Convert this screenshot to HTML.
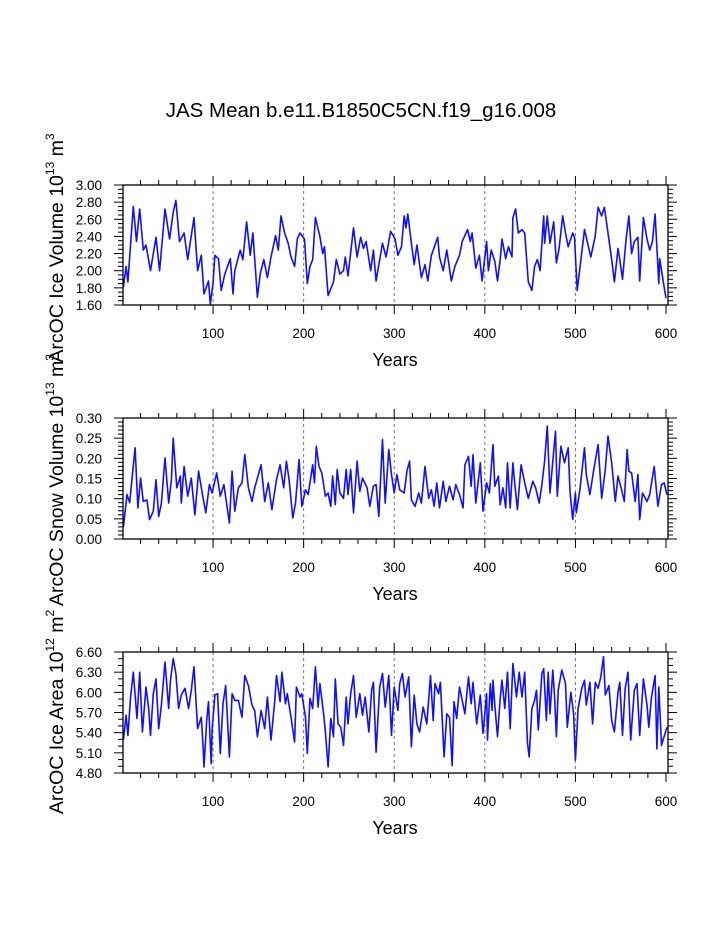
<!DOCTYPE html>
<html><head><meta charset="utf-8"><style>
html,body{margin:0;padding:0;background:#fff;}
svg{display:block;font-family:"Liberation Sans",sans-serif;}
</style></head><body>
<svg id="chart" width="723" height="935" viewBox="0 0 723 935" xmlns="http://www.w3.org/2000/svg">
<text x="361" y="117" font-size="20.5" text-anchor="middle">JAS Mean b.e11.B1850C5CN.f19_g16.008</text>
</svg>
<script>
const iceVolYears=[1,4,6,12,15.5,19,23,26,31,37,41,47,52,56,59,63,68,72,79,83,87,90,95,97,100,102,106,109,113,119,122,124,130,133,137,141,144,149,152,156,160,164,169,172,175,179,183,186,190,193,196,201,204,207,210,213,218,221,223,227,233,236,240,244,246,249,255,259,263,266,269,274,277,280,284,287,291,296,301,304,308,311,313,315,319,322,325,330,334,337,341,348,350,354,358,363,367,372,375,381,384,386,390,394,397,402,404,407,411,414,417,419,423,426,430,431,434,437,441,444,448,452,455,458,461,465,466,469,472,476,479,482,486,489,492,497,499,502,505,510,512,517,522,525,529,532,536,540,543,547,549,552,556,559,562,565,569,571,575,579,582,585,588,592,593,597,600];
const iceVolValues=[1.81,2.05,1.87,2.75,2.34,2.72,2.24,2.30,2.00,2.39,2.00,2.72,2.37,2.68,2.82,2.34,2.44,2.13,2.62,2.00,2.18,1.73,1.88,1.61,1.85,2.18,2.14,1.77,1.96,2.14,1.73,2.00,2.24,2.13,2.57,2.18,2.44,1.69,1.96,2.13,1.92,2.16,2.41,2.24,2.64,2.44,2.32,2.16,2.05,2.37,2.44,2.37,1.85,2.05,2.13,2.62,2.40,2.20,2.28,1.71,1.87,2.13,1.96,2.00,2.16,1.94,2.50,2.16,2.39,2.26,2.34,2.00,2.24,1.88,2.13,2.32,2.16,2.46,2.37,2.18,2.28,2.64,2.50,2.66,2.32,2.07,2.30,1.92,2.07,1.88,2.18,2.39,2.16,2.00,2.24,1.88,2.05,2.18,2.34,2.48,2.34,2.44,2.03,2.18,1.88,2.34,2.00,2.24,2.11,1.88,2.13,2.37,2.14,2.28,2.16,2.62,2.72,2.44,2.48,2.44,1.87,1.77,2.05,2.13,2.00,2.64,2.32,2.64,2.32,2.57,2.09,2.26,2.64,2.44,2.28,2.44,2.39,1.77,2.03,2.48,2.39,2.16,2.41,2.74,2.64,2.74,2.44,2.13,1.87,2.26,2.13,1.90,2.37,2.64,2.20,2.34,2.39,1.88,2.62,2.37,2.24,2.34,2.66,1.85,2.14,1.87,1.68];

const snowYears=[1,5,8,11,14,17,20,23,27,30,34,37,40,43,47,51,54,56,60,64,65,68,72,76,80,84,88,92,96,99,104,108,112,118,121,124,128,132,135,139,143,146,153,157,161,165,170,174,178,181,184,188,191,195,198,202,205,210,212,214,217,220,224,227,230,232,235,237,240,244,247,249,252,255,259,262,265,270,273,277,280,283,287,290,294,297,300,303,306,311,314,317,319,323,327,330,334,338,341,344,347,350,354,357,361,365,368,372,376,378,382,385,387,390,395,398,402,405,409,411,415,417,420,423,425,428,431,433,436,440,444,448,453,456,460,463,466,469,472,475,478,480,484,488,492,494,497,500,501,505,510,512,516,520,525,529,533,536,540,544,547,551,554,557,559,562,566,569,571,574,579,582,587,591,595,598,601];
const snowValues=[0.03,0.11,0.09,0.16,0.226,0.077,0.151,0.093,0.097,0.048,0.069,0.147,0.056,0.089,0.201,0.089,0.147,0.25,0.127,0.156,0.089,0.18,0.106,0.151,0.06,0.168,0.114,0.065,0.135,0.114,0.164,0.106,0.135,0.04,0.168,0.069,0.127,0.139,0.209,0.127,0.093,0.127,0.184,0.093,0.139,0.073,0.147,0.184,0.127,0.193,0.147,0.052,0.089,0.197,0.081,0.122,0.11,0.184,0.139,0.23,0.18,0.164,0.106,0.114,0.081,0.156,0.085,0.172,0.114,0.101,0.172,0.11,0.172,0.065,0.193,0.118,0.151,0.127,0.081,0.131,0.135,0.056,0.247,0.089,0.222,0.16,0.114,0.16,0.122,0.114,0.168,0.193,0.097,0.081,0.114,0.089,0.18,0.101,0.122,0.081,0.139,0.077,0.143,0.093,0.131,0.097,0.135,0.11,0.077,0.184,0.205,0.131,0.209,0.089,0.189,0.069,0.139,0.114,0.234,0.131,0.156,0.085,0.127,0.077,0.189,0.077,0.189,0.139,0.073,0.184,0.139,0.101,0.143,0.127,0.089,0.135,0.193,0.28,0.114,0.193,0.267,0.106,0.23,0.189,0.226,0.118,0.048,0.114,0.065,0.122,0.226,0.16,0.11,0.168,0.234,0.101,0.172,0.255,0.189,0.093,0.156,0.122,0.093,0.222,0.168,0.164,0.093,0.16,0.048,0.114,0.093,0.11,0.18,0.081,0.135,0.139,0.11];

const areaYears=[1,4,6,9,12,16,19,22,26,29,31,34,37,40,43,47,51,53,56,59,62,65,69,73,76,79,83,87,89,90,93,95,98,99,102,105,108,111,114,118,121,124,128,132,135,139,143,146,149,153,157,160,164,168,170,174,176,180,182,186,190,192,196,198,202,204,207,210,213,216,218,222,224,227,230,233,235,238,241,244,247,249,252,255,258,262,265,268,272,275,277,280,284,287,290,294,297,300,304,306,309,312,316,319,322,325,328,332,336,340,343,345,349,351,355,358,361,364,366,369,372,375,378,382,385,387,391,395,398,402,403,406,408,409,411,414,417,419,422,425,428,431,435,438,441,444,447,449,452,455,457,459,463,465,468,470,472,475,477,479,481,485,489,491,495,498,500,503,507,510,512,516,519,522,525,528,531,533,537,540,543,547,549,552,555,558,561,565,568,571,575,579,581,584,588,590,592,595,599,601];
const areaValues=[5.29,5.66,5.36,5.93,6.30,5.61,6.30,5.41,6.08,5.76,5.36,5.98,6.20,5.46,5.81,6.45,5.76,6.18,6.50,6.28,5.76,5.96,6.06,5.76,6.03,6.38,5.46,5.63,5.19,4.89,5.58,5.86,4.94,5.44,5.96,5.98,5.09,5.83,6.10,5.04,5.98,5.88,5.88,5.63,6.25,6.10,5.81,5.73,5.34,5.73,5.46,5.93,5.29,5.86,6.25,5.86,6.30,5.83,5.98,5.63,5.26,6.08,5.93,5.98,5.63,5.09,5.91,5.76,6.38,5.78,6.13,5.68,5.41,4.89,5.61,5.34,6.20,5.53,5.48,5.21,5.93,5.53,5.98,6.25,5.63,5.98,5.66,5.93,5.41,6.03,6.15,5.11,6.08,6.28,5.78,6.25,5.36,6.08,5.73,6.13,6.28,5.93,6.23,5.19,5.96,5.53,5.41,5.78,5.53,6.25,5.58,6.13,5.98,6.15,5.04,5.68,5.63,4.91,5.86,5.61,6.08,5.88,5.68,6.23,5.83,6.15,5.53,5.96,5.39,5.98,5.29,6.13,5.73,6.18,5.81,5.34,5.91,6.18,5.76,6.30,5.46,6.43,5.93,6.30,5.93,6.30,5.26,5.04,5.76,5.88,6.03,5.44,6.28,6.35,5.58,6.30,5.68,6.33,5.93,5.34,6.03,6.33,6.13,5.48,6.00,5.68,4.99,5.76,6.06,6.18,5.81,6.15,5.53,6.15,6.06,6.23,6.53,5.96,6.10,5.58,5.41,6.00,6.15,5.36,6.06,6.30,5.29,6.03,6.13,5.36,6.20,5.81,5.48,5.93,6.25,5.16,6.08,5.21,5.39,5.48];

const xTickValues=[100,200,300,400,500,600];
const iceVolTicks=["1.60","1.80","2.00","2.20","2.40","2.60","2.80","3.00"];
const snowTicks=["0.00","0.05","0.10","0.15","0.20","0.25","0.30"];
const areaTicks=["4.80","5.10","5.40","5.70","6.00","6.30","6.60"];

const NS="http://www.w3.org/2000/svg";
const svg=document.getElementById('chart');
function mk(tag,attrs,parent){const e=document.createElementNS(NS,tag);for(const k in attrs)e.setAttribute(k,attrs[k]);(parent||svg).appendChild(e);return e;}

const X0=123,X1=668,XMIN=0.6,XMAX=602.2;
function xScale(v){return X0+(v-XMIN)/(XMAX-XMIN)*(X1-X0);}

function panel(key,top,bottom,ticks,minorDiv,years,values,ylabelParts,ycenter){
  const ymin=parseFloat(ticks[0]),ymax=parseFloat(ticks[ticks.length-1]);
  const yScale=v=>bottom-(v-ymin)/(ymax-ymin)*(bottom-top);
  const g=mk('g',{});
  
  
  xTickValues.slice(0,5).forEach(t=>{
    const l=mk('line',{x1:xScale(t),x2:xScale(t),y1:top,y2:bottom,stroke:'#777','stroke-width':1,'stroke-dasharray':'3,3'},g);
    
    
  });
  const pts=years.map((y,i)=>xScale(y).toFixed(1)+','+yScale(values[i]).toFixed(1)).join(' ');
  const pl=mk('polyline',{points:pts,fill:'none',stroke:'#1010ff','stroke-width':1.6,'stroke-linejoin':'round'},g);
  
  
  const fr=mk('rect',{x:X0,y:top,width:X1-X0,height:bottom-top,fill:'none',stroke:'#000','stroke-width':1.3},g);
  
  
  for(let t=20;t<=600;t+=20){
    const major=t%100===0, len=major?9:5, x=xScale(t);
    mk('line',{x1:x,x2:x,y1:bottom,y2:bottom+len,stroke:'#000','stroke-width':1},g);
    mk('line',{x1:x,x2:x,y1:top,y2:top-len,stroke:'#000','stroke-width':1},g);
  }
  xTickValues.forEach(t=>{
    const tx=mk('text',{x:xScale(t),y:bottom+33,'font-size':13.5,'text-anchor':'middle'},g);
    tx.textContent=String(t);
    
    
  });
  const xt=mk('text',{x:395,y:bottom+61,'font-size':18,'text-anchor':'middle'},g);
  xt.textContent='Years';
  
  
  const step=parseFloat(ticks[1])-ymin;
  for(let i=0;i<ticks.length;i++){
    const v=parseFloat(ticks[i]), y=yScale(v);
    mk('line',{x1:X0,x2:X0-9,y1:y,y2:y,stroke:'#000','stroke-width':1},g);
    mk('line',{x1:X1,x2:X1+9,y1:y,y2:y,stroke:'#000','stroke-width':1},g);
    if(i<ticks.length-1){for(let m=1;m<minorDiv;m++){const ym=yScale(v+step*m/minorDiv);
      mk('line',{x1:X0,x2:X0-5,y1:ym,y2:ym,stroke:'#000','stroke-width':1},g);
      mk('line',{x1:X1,x2:X1+5,y1:ym,y2:ym,stroke:'#000','stroke-width':1},g);}}
    const tl=mk('text',{x:102,y:y+5,'font-size':13.5,'text-anchor':'end'},g);
    tl.textContent=ticks[i];
    
    
  }
  const yt=mk('text',{x:0,y:0,'font-size':19.5,'text-anchor':'middle',transform:'translate(63,'+ycenter+') rotate(-90)'},g);
  
  
  ylabelParts.forEach(p=>{const s=mk('tspan',p.sup?{'font-size':12,dy:-9}:{dy:p.after?9:0},yt);s.textContent=p.t;});
}
panel('ice-volume',185,305,iceVolTicks,4,iceVolYears,iceVolValues,
  [{t:'ArcOC Ice Volume 10'},{t:'13',sup:1},{t:' m',after:1},{t:'3',sup:1}],248);
panel('snow-volume',418,539,snowTicks,5,snowYears,snowValues,
  [{t:'ArcOC Snow Volume 10'},{t:'13',sup:1},{t:' m',after:1},{t:'3',sup:1}],480);
panel('ice-area',652,773,areaTicks,3,areaYears,areaValues,
  [{t:'ArcOC Ice Area 10'},{t:'12',sup:1},{t:' m',after:1},{t:'2',sup:1}],712);
</script>
</body></html>
